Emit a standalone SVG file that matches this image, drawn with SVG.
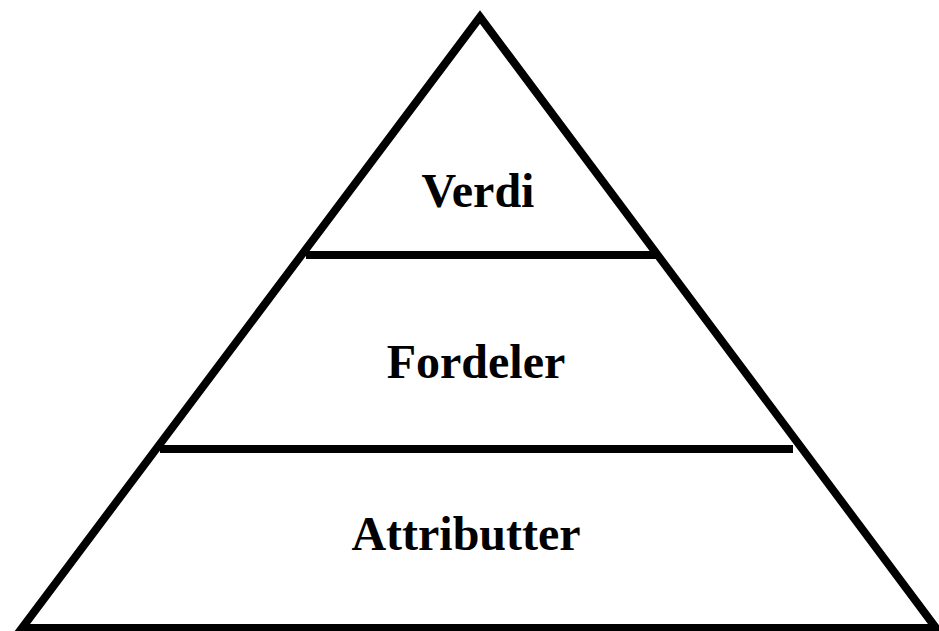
<svg xmlns="http://www.w3.org/2000/svg" width="939" height="631" viewBox="0 0 939 631">
<style>
.s{stroke:#000;stroke-width:8;fill:none;stroke-linejoin:miter}
.t{font-family:"Liberation Serif","Times New Roman",serif;font-weight:bold;font-size:48px;fill:#000;text-anchor:middle}
</style>
<rect width="939" height="631" fill="#fff"/>
<g id="connectors">
<polygon class="s" points="480,17 22,628 936,628"/>
<line class="s" x1="306" y1="255" x2="656" y2="255"/>
<line class="s" x1="160" y1="449" x2="793" y2="449"/>
</g>
<g id="verdi"><text class="t" x="478" y="207">Verdi</text></g>
<g id="fordeler"><text class="t" x="476" y="378">Fordeler</text></g>
<g id="attributter"><text class="t" x="466" y="550">Attributter</text></g>
</svg>
